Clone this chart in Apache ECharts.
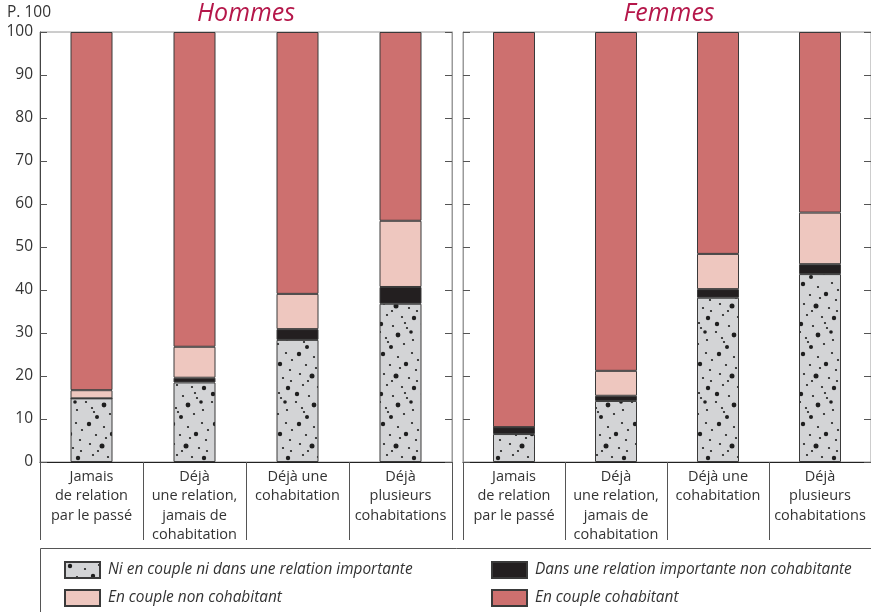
<!DOCTYPE html>
<html>
<head>
<meta charset="utf-8">
<script src="https://cdn.jsdelivr.net/npm/echarts@6/dist/echarts.min.js"></script>
<style>
html,body{margin:0;padding:0;background:#fff;}
#main{width:871px;height:612px;}
</style>
</head>
<body>
<div id="main"></div>
<script>
// ---- Data ----
const categories = ['Jamais\nde relation\npar le passé', 'Déjà\nune relation,\njamais de\ncohabitation', 'Déjà une\ncohabitation', 'Déjà\nplusieurs\ncohabitations'];
const panelTitles = ['Hommes', 'Femmes'];
const seriesNames = ['Ni en couple ni dans une relation importante', 'Dans une relation importante non cohabitante', 'En couple non cohabitant', 'En couple cohabitant'];
const yTicks = [0, 10, 20, 30, 40, 50, 60, 70, 80, 90, 100];

const hommesSeul = [14.8, 18.5, 28.4, 36.8];
const hommesRelation = [0, 1.1, 2.5, 3.9];
const hommesNonCohab = [1.9, 7.2, 8.2, 15.4];
const hommesCohab = [83.3, 73.2, 60.9, 43.9];

const femmesSeul = [6.5, 14.2, 38.2, 43.7];
const femmesRelation = [1.6, 1.2, 2.0, 2.3];
const femmesNonCohab = [0, 5.8, 8.2, 12.0];
const femmesCohab = [91.9, 78.8, 51.6, 42.0];

// ---- Dotted pattern (style only) ----
function makeDots() {
  const c = document.createElement('canvas');
  c.width = 42; c.height = 70;
  const g = c.getContext('2d');
  g.fillStyle = '#d3d4d6';
  g.fillRect(0, 0, 42, 70);
  g.fillStyle = '#1e1e1e';
  const dots = [[5,4,2.2],[20,7,1.1],[34,3,1.1],[12,15,1.1],[28,14,2.2],[38,20,1.1],[6,24,1.1],[18,26,2.5],[31,28,1.1],[9,35,1.1],[24,37,1.1],[36,38,2.2],[3,44,2.2],[15,46,1.1],[29,48,1.1],[20,55,2.4],[8,58,1.1],[35,60,1.1],[26,64,1.1],[13,67,2],[40,10,1.1],[2,52,1.1],[33,52,1.8],[22,18,1.1],[14,31,1.1],[39,31,1.1],[27,43,1.1],[10,62,1.1]];
  dots.forEach(d => { g.beginPath(); g.arc(d[0], d[1], d[2], 0, Math.PI * 2); g.fill(); });
  return c;
}
const dotPattern = { image: makeDots(), repeat: 'repeat' };
const colors = [dotPattern, '#231f20', '#eec7bf', '#cd706f'];

const panelData = [
  [hommesSeul, hommesRelation, hommesNonCohab, hommesCohab],
  [femmesSeul, femmesRelation, femmesNonCohab, femmesCohab]
];

const FONT = '"Open Sans", "Noto Sans", sans-serif';
const chart = echarts.init(document.getElementById('main'), null, { renderer: 'canvas' });

const grids = [
  { left: 40, top: 32, width: 412, height: 430, show: true, borderColor: '#9a9a9a', borderWidth: 1 },
  { left: 463, top: 32, width: 412, height: 430, show: true, borderColor: '#9a9a9a', borderWidth: 1 }
];

const xAxes = [0, 1].map(i => ({
  type: 'category', gridIndex: i, data: categories, position: 'bottom',
  axisLine: { lineStyle: { color: '#222', width: 1.2 } },
  axisTick: { show: true, length: 78, interval: 0, lineStyle: { color: '#555' } },
  axisLabel: { interval: 0, fontFamily: FONT, fontSize: 14.5, lineHeight: 19.5, color: '#333', margin: 5 }
}));

function yAxis(grid, pos, labels, lineColor) {
  return {
    type: 'value', gridIndex: grid, position: pos, min: 0, max: 100, interval: 10,
    axisLine: { show: true, lineStyle: { color: lineColor, width: 1 } },
    axisTick: { show: true, inside: true, length: 7, lineStyle: { color: '#555' } },
    axisLabel: { show: labels, fontFamily: FONT, fontSize: 15.5, color: '#333', margin: 7,
      formatter: v => yTicks.includes(v) ? String(v) : '' },
    splitLine: { show: false }
  };
}
const yAxes = [
  yAxis(0, 'left', true, '#444'),
  yAxis(0, 'right', false, '#9a9a9a'),
  yAxis(1, 'left', false, '#9a9a9a'),
  yAxis(1, 'right', false, '#9a9a9a')
];

const series = [];
panelData.forEach((arrs, p) => {
  arrs.forEach((vals, k) => {
    series.push({
      name: seriesNames[k], type: 'bar', stack: 'p' + p,
      xAxisIndex: p, yAxisIndex: p * 2, barWidth: 42,
      data: vals,
      itemStyle: { color: colors[k], borderColor: '#3a3a3a', borderWidth: 1 },
      emphasis: { disabled: true }, animation: false
    });
  });
});

const legendPos = [[64, 561], [491, 561], [64, 589], [491, 589]];
const legends = legendPos.map((pos, k) => ({
  data: [seriesNames[k]], left: pos[0], top: pos[1], padding: 0,
  itemWidth: 35, itemHeight: 16, icon: 'rect', selectedMode: false,
  textStyle: { fontFamily: FONT, fontSize: 15.4, fontStyle: 'italic', color: '#333', padding: [0, 0, 0, 3] }
}));

chart.setOption({
  animation: false,
  grid: grids,
  xAxis: xAxes,
  yAxis: yAxes,
  series: series,
  legend: legends,
  graphic: [
    { type: 'text', x: 7, y: 13, style: { text: 'P. 100', font: '15.5px ' + FONT, fill: '#333', textVerticalAlign: 'middle' } },
    { type: 'text', x: 246, y: 14, style: { text: panelTitles[0], font: 'italic 25px ' + FONT, fill: '#b5174a', textAlign: 'center', textVerticalAlign: 'middle' } },
    { type: 'text', x: 669, y: 14, style: { text: panelTitles[1], font: 'italic 25px ' + FONT, fill: '#b5174a', textAlign: 'center', textVerticalAlign: 'middle' } },
    { type: 'rect', shape: { x: 40.5, y: 548.5, width: 850, height: 80 }, style: { fill: 'none', stroke: '#555', lineWidth: 1 } }
  ]
});
</script>
</body>
</html>
